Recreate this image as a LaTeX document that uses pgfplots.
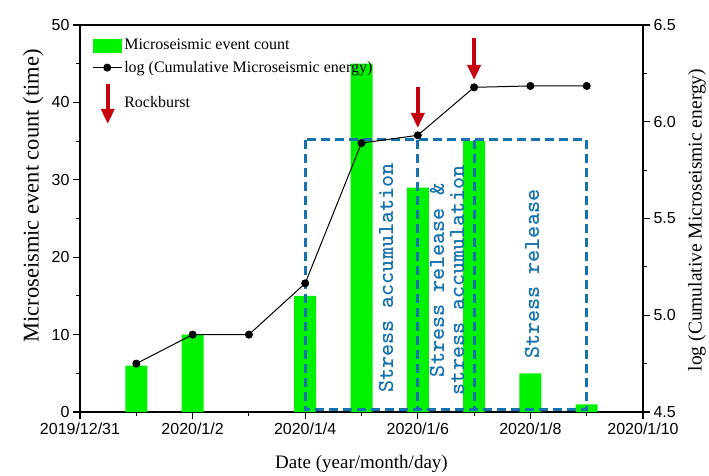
\documentclass[border=0pt]{standalone}
\usepackage{pgfplots}
\pgfplotsset{compat=1.18}
\usetikzlibrary{arrows.meta}
\usepackage{fontspec}
\setmainfont{Liberation Serif}
\newfontfamily\arial{Liberation Sans}
\newfontfamily\stressfont{lmmonolt10-bold}[Extension=.otf]

\definecolor{barg}{RGB}{0,242,0}
\definecolor{stressblue}{RGB}{22,114,172}
\definecolor{burstred}{RGB}{196,0,16}

\tikzset{
  stage/.style={stressblue, line width=2.8pt, dash pattern=on 9pt off 5pt},
  stagetext/.style={rotate=90, text=stressblue, font=\fontsize{23}{20}\stressfont},
  burst/.style={burstred, line width=4pt, -{Triangle[width=13pt,length=15pt]}},
}

\pgfplotsset{
  common/.style={
    at={(80pt,63pt)}, anchor=south west,
    scale only axis, width=563pt, height=387pt,
    xmin=0, xmax=10,
    tick align=outside,
    major tick length=7pt, minor tick length=4pt,
    every tick/.style={black, line width=1.1pt},
    axis line style={black, line width=1.2pt},
    ticklabel style={font=\fontsize{16}{16}\arial},
    /pgf/number format/assume math mode=true,
    label style={font=\fontsize{19}{19}\selectfont},
  },
}

\begin{document}
\begin{tikzpicture}[x=1pt,y=1pt]
\path[use as bounding box] (0,0) rectangle (709,475);

% event counts (left axis)
\begin{axis}[common,
  ymin=0, ymax=50,
  xtick={0,2,4,6,8,10},
  xticklabels={2019/12/31,2020/1/2,2020/1/4,2020/1/6,2020/1/8,2020/1/10},
  minor x tick num=1,
  ytick={0,10,20,30,40,50},
  minor y tick num=1,
  xtick pos=left, ytick pos=left,
  xlabel={Date (year/month/day)},
  ylabel={Microseismic event count (time)},
  ylabel style={at={(axis description cs:-0.083,0.558)}, anchor=center, font=\fontsize{22.5}{22.5}\selectfont},
  xlabel style={at={(axis description cs:0.5,-0.135)}, anchor=center},
  clip=false,
]
\addplot[ybar, bar width=22pt, fill=barg, draw=none] coordinates {
  (1,6) (2,10) (4,15) (5,45) (6,29) (7,35) (8,5) (9,1)
};

% stage boundaries
\draw[stage] (axis cs:4,35.2) rectangle (axis cs:9,0.3);
\draw[stage] (axis cs:6,35.2) -- (axis cs:6,0.3);
\draw[stage] (axis cs:7,35.2) -- (axis cs:7,0.3);

\node[stagetext] at (axis cs:5.435,17.3) {Stress accumulation};
\node[stagetext, align=center] at (axis cs:6.52,17.0) {Stress release \&\\stress accumulation};
\node[stagetext] at (axis cs:8.03,17.8) {Stress release};

% rockburst markers
\draw[burst] (axis cs:6,42.0) -- (axis cs:6,36.7);
\draw[burst] (axis cs:7,48.3) -- (axis cs:7,42.9);
\end{axis}

% cumulative energy (right axis)
\begin{axis}[common,
  ymin=4.5, ymax=6.5,
  axis x line=none,
  axis y line*=right,
  ytick={4.5,5,5.5,6,6.5},
  minor y tick num=1,
  yticklabel style={/pgf/number format/.cd, fixed, fixed zerofill, precision=1},
  ylabel={log (Cumulative Microseismic energy)},
  ylabel style={at={(axis description cs:1.096,0.496)}, anchor=center, font=\fontsize{19.5}{19.5}\selectfont},
  legend style={at={(axis description cs:0.0213,0.969)}, anchor=north west,
    draw=none, fill=none, font=\fontsize{16}{16}\selectfont,
    row sep=6pt, inner sep=0pt},
  legend cell align=left,
]
\addlegendimage{legend image code/.code={\fill[barg] (0pt,-6.5pt) rectangle (28pt,6.5pt);}}
\addlegendentry{Microseismic event count}
\addplot[black, line width=1pt, mark=*, mark size=3.5pt,
  legend image code/.code={\draw[black, line width=1.1pt] (0pt,0pt) -- (29pt,0pt);
    \fill[black] (14.5pt,0pt) circle (3.5pt);}]
  coordinates {
  (1,4.75) (2,4.90) (3,4.90) (4,5.165) (5,5.89) (6,5.93) (7,6.178) (8,6.185) (9,6.185)
};
\addlegendentry{log (Cumulative Microseismic energy)}
\addlegendimage{legend image code/.code={\draw[burst] (15pt,19pt) -- (15pt,-21pt);}}
\addlegendentry{Rockburst}
\end{axis}
\end{tikzpicture}
\end{document}
